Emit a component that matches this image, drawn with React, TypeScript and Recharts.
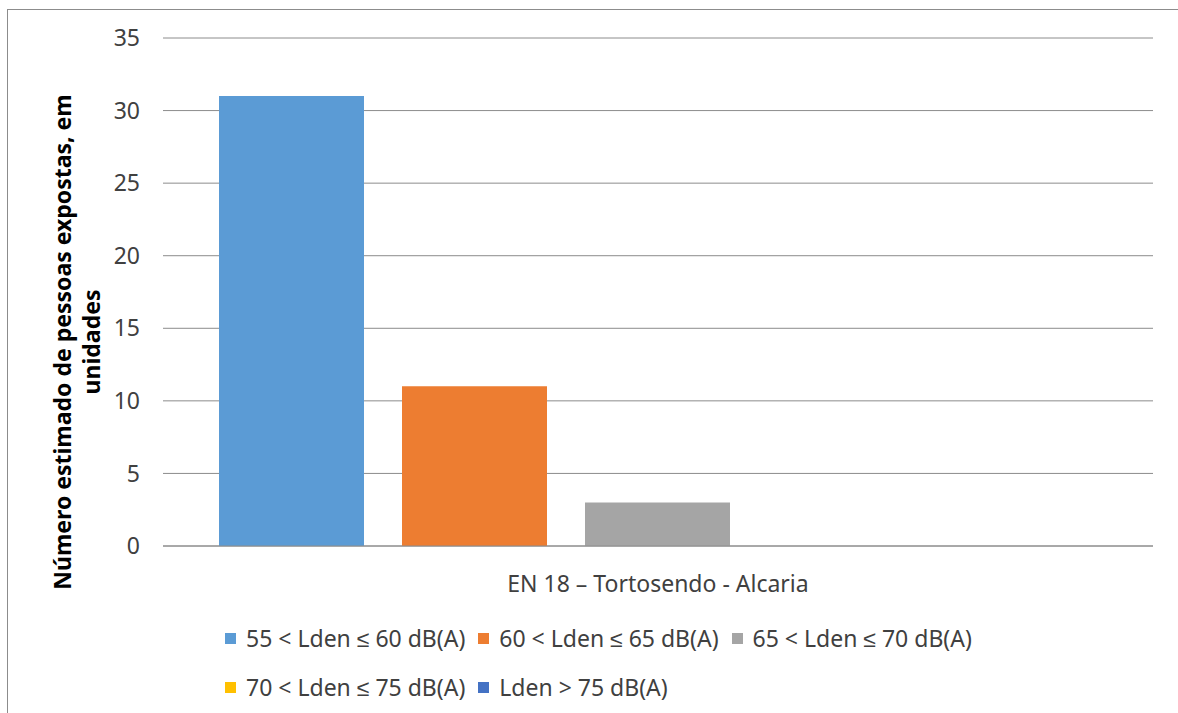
import { BarChart, Bar, XAxis, YAxis, CartesianGrid, Label } from 'recharts';

const categories = ['EN 18 – Tortosendo - Alcaria'];
const seriesNames = [
  '55 < Lden ≤ 60 dB(A)',
  '60 < Lden ≤ 65 dB(A)',
  '65 < Lden ≤ 70 dB(A)',
  '70 < Lden ≤ 75 dB(A)',
  'Lden > 75 dB(A)',
];
const seriesValues = [[31], [11], [3], [0], [0]];
const seriesColors = ['#5B9BD5', '#ED7D31', '#A5A5A5', '#FFC000', '#4472C4'];
const yTicks = [0, 5, 10, 15, 20, 25, 30, 35];
const yTitle = ['Número estimado de pessoas expostas, em', 'unidades'];

const data = categories.map((name, i) => {
  const row: Record<string, string | number> = { name };
  seriesNames.forEach((_, s) => {
    row[`s${s}`] = seriesValues[s][i];
  });
  return row;
});

const FONT = '"Noto Sans", sans-serif';

// title sits a bit lower than the plot centre, like in the original
const YTitle = ({ viewBox }: any) => {
  const cy = viewBox.y + viewBox.height / 2 + 50;
  return (
    <g>
      {yTitle.map((line, i) => (
        <text
          key={i}
          x={0}
          y={0}
          transform={`translate(${62 + i * 29}, ${cy}) rotate(-90)`}
          textAnchor="middle"
          dominantBaseline="central"
          fontFamily={FONT}
          fontWeight="bold"
          fontSize={23}
          fill="#000"
        >
          {line}
        </text>
      ))}
    </g>
  );
};

export default function App() {
  return (
    <div
      style={{
        position: 'absolute',
        left: 0,
        top: 0,
        width: 1178,
        height: 713,
        overflow: 'hidden',
        background: '#fff',
      }}
    >
      <div
        style={{
          position: 'absolute',
          left: 7,
          top: 9,
          width: 1200,
          height: 720,
          border: '1px solid #8c8c8c',
        }}
      />
      <div style={{ position: 'absolute', left: 0, top: 0 }}>
        <BarChart
          width={1178}
          height={713}
          data={data}
          margin={{ top: 38, right: 25, bottom: 117, left: 0 }}
          barCategoryGap={56}
          barGap={38}
        >
          <CartesianGrid vertical={false} stroke="#8c8c8c" strokeWidth={1} />
          <XAxis
            dataKey="name"
            height={50}
            tickLine={false}
            axisLine={{ stroke: '#8c8c8c' }}
            tickMargin={24}
            tick={{ fill: '#404040', fontSize: 23, fontFamily: FONT }}
          />
          <YAxis
            width={163}
            domain={[0, 35]}
            ticks={yTicks}
            interval={0}
            tickLine={false}
            axisLine={false}
            tickMargin={17}
            tick={{ fill: '#404040', fontSize: 23, fontFamily: FONT }}
          >
            <Label content={YTitle} />
          </YAxis>
          {seriesNames.map((n, s) => (
            <Bar key={n} dataKey={`s${s}`} name={n} fill={seriesColors[s]} isAnimationActive={false} />
          ))}
        </BarChart>
      </div>
      <div
        style={{
          position: 'absolute',
          left: 225,
          top: 626,
          width: 770,
          display: 'flex',
          flexWrap: 'wrap',
          columnGap: 13,
          rowGap: 25,
          fontFamily: FONT,
          fontSize: 23,
          color: '#404040',
        }}
      >
        {seriesNames.map((n, s) => (
          <div key={n} style={{ display: 'flex', alignItems: 'center', gap: 10, height: 24, lineHeight: 1 }}>
            <span style={{ width: 11, height: 11, background: seriesColors[s], display: 'inline-block' }} />
            <span style={{ whiteSpace: 'nowrap' }}>{n}</span>
          </div>
        ))}
      </div>
    </div>
  );
}
